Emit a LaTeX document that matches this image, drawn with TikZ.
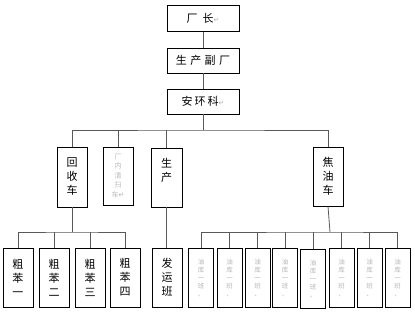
\documentclass[tikz,border=0pt]{standalone}
\usepackage{fontspec}
\newfontfamily\cjk{Noto Sans CJK SC}
\newfontfamily\symfont{DejaVu Sans}
\newcommand\retm{{\symfont\color{gray!60}\fontsize{7}{7}\selectfont ↵}}
\begin{document}
\begin{tikzpicture}[x=1pt,y=-1pt,
  box/.style={draw=black, line width=0.8pt, inner sep=0pt, align=center,
    font=\cjk\fontsize{11}{14}\selectfont},
  tbox/.style={box, minimum width=72pt, minimum height=26pt},
  vbox/.style={box, minimum width=30pt, minimum height=59pt},
  cbox/.style={box, minimum width=30pt, minimum height=58pt, text=gray!55,
    font=\cjk\fontsize{7}{9.5}\selectfont},
  sbox/.style={box, minimum width=25pt, minimum height=59pt, text=gray!55,
    font=\cjk\fontsize{6.5}{8}\selectfont},
  conn/.style={draw=black!65, line width=0.8pt}]
\fill[white] (0,0) rectangle (415,314);
\useasboundingbox (0,0) rectangle (415,314);
% top column
\node[tbox] (cz) at (203,18.5) {厂\hspace{5pt}长\retm};
\node[tbox, minimum height=25pt] (fz) at (203,60.5) {生\hspace{3.5pt}产\hspace{3.5pt}副\hspace{3.5pt}厂};
\node[tbox, minimum height=25pt] (ayk) at (203,101.5) {安\hspace{2pt}环\hspace{2pt}科\retm};
% middle row
\node[vbox, minimum height=60pt] (hsc) at (72,177) {回\\收\\车};
\node[cbox] (cq) at (118,176) {厂\\内\\清\\扫\\车\retm};
\node[vbox, minimum width=31pt] (sc) at (166.5,177.5) {生\\产\\[2pt]};
\node[vbox] (jyc) at (328,176.5) {焦\\油\\车};
% bottom row
\node[vbox] (cb1) at (18,277.5) {粗\\苯\\一};
\node[vbox] (cb2) at (54,277.5) {粗\\苯\\二};
\node[vbox] (cb3) at (90,277.5) {粗\\苯\\三};
\node[vbox] (cb4) at (125,277.5) {粗\\苯\\四};
\node[vbox] (fyb) at (167,277.5) {发\\运\\班};
\foreach \x/\y [count=\i] in {201/277.5,229.5/277.5,257.5/277.5,285/277.5,313/278.5,341.5/277.5,369.5/277.5,397.5/277.5}
  \node[sbox] (yk\i) at (\x,\y) {油\\库\\一\\班\\、};
% bus coordinates
\coordinate (b1) at (202,130);
\coordinate (b2) at (72,232);
\coordinate (b3) at (330,232);
% connectors
\draw[conn] (cz) -- (fz);
\draw[conn] (fz) -- (ayk);
\draw[conn] (ayk.south) -- (ayk.south |- b1);
\draw[conn] (hsc.north) |- (b1) -| (jyc.north);
\draw[conn] (cq.north) -- (cq.north |- b1);
\draw[conn] (sc.north) -- (sc.north |- b1);
\draw[conn] (hsc.south) -- (b2);
\draw[conn] (cb1.north) |- (b2) -| (cb4.north);
\draw[conn] (cb2.north) -- (cb2.north |- b2);
\draw[conn] (cb3.north) -- (cb3.north |- b2);
\draw[conn] (sc.south) -- (sc.south |- fyb.north);
\draw[conn] (jyc.south) -- (b3);
\draw[conn] (yk1.north) |- (b3) -| (yk8.north);
\foreach \i in {2,...,7}
  \draw[conn] (yk\i.north) -- (yk\i.north |- b3);
\end{tikzpicture}
\end{document}
